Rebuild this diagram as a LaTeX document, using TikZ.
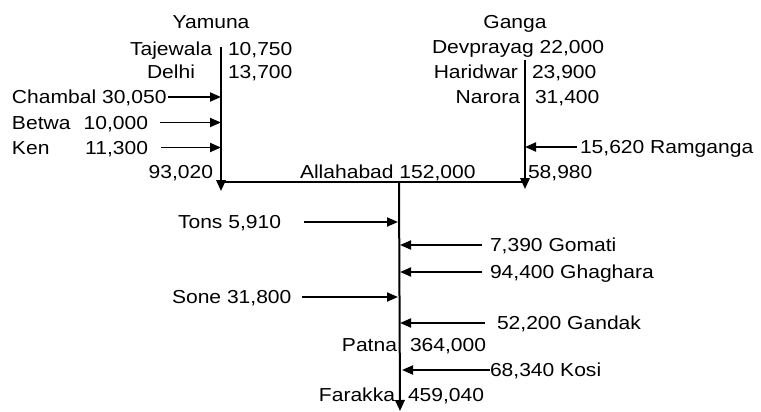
\documentclass[tikz,border=0pt]{standalone}
\usepackage{fontspec}
\setmainfont{Liberation Sans}[FakeStretch=1.12]
\usetikzlibrary{arrows.meta}
\tikzset{
  lbl/.style={inner sep=0pt, outer sep=0pt, font=\fontsize{18.8}{22}\selectfont},
  river/.style={line width=2pt, -{Triangle[length=11pt,width=9.5pt]}},
  trib/.style={line width=1.9pt, -{Triangle[length=11pt,width=9pt]}},
  plain/.style={line width=2pt}
}
\begin{document}
\begin{tikzpicture}[x=1pt,y=-1pt]
\useasboundingbox (0,0) rectangle (761,412);
% river lines
\coordinate (ytop) at (221,47);
\coordinate (yend) at (221,191);
\coordinate (gtop) at (525,60);
\coordinate (gend) at (525,189);
\coordinate (hl) at (221,182);
\coordinate (hr) at (525,182);
\coordinate (mtop) at (399,182);
\coordinate (mend) at (400,411);
\draw[river] (ytop) -- (yend);
\draw[river] (gtop) -- (gend);
\draw[plain] (hl) -- (hr);
\draw[river] (mtop) -- (mend);
% tributary endpoints
\coordinate (chS) at (168,97);   \coordinate (chE) at (221,97);
\coordinate (beS) at (160,122.5); \coordinate (beE) at (221,122.5);
\coordinate (keS) at (161,147.5); \coordinate (keE) at (221,147.5);
\coordinate (raS) at (577,147);  \coordinate (raE) at (525,147);
\coordinate (toS) at (304,222);  \coordinate (toE) at (398,222);
\coordinate (goS) at (482,245);  \coordinate (goE) at (400,245);
\coordinate (ghS) at (482,272);  \coordinate (ghE) at (400,272);
\coordinate (soS) at (302,297);  \coordinate (soE) at (398,297);
\coordinate (gaS) at (485,323);  \coordinate (gaE) at (400,323);
\coordinate (koS) at (490,370);  \coordinate (koE) at (402,370);
\draw[trib] (chS) -- (chE);
\draw[trib] (beS) -- (beE);
\draw[trib] (keS) -- (keE);
\draw[trib] (raS) -- (raE);
\draw[trib] (toS) -- (toE);
\draw[trib] (goS) -- (goE);
\draw[trib] (ghS) -- (ghE);
\draw[trib] (soS) -- (soE);
\draw[trib] (gaS) -- (gaE);
\draw[trib] (koS) -- (koE);
% labels: Yamuna
\node[lbl, anchor=base] (yamuna) at (211,28.6) {Yamuna};
\node[lbl, anchor=base east] (taj) at (212,55.6) {Tajewala};
\node[lbl, anchor=base west] (tajv) at (228,55.6) {10,750};
\node[lbl, anchor=base east] (del) at (195,78.6) {Delhi};
\node[lbl, anchor=base west] (delv) at (228,78.6) {13,700};
\node[lbl, anchor=base west] (cha) at (12,103.6) {Chambal 30,050};
\node[lbl, anchor=base west] (bet) at (12,129) {Betwa};
\node[lbl, anchor=base east] (betv) at (148,129) {10,000};
\node[lbl, anchor=base west] (ken) at (12,154) {Ken};
\node[lbl, anchor=base east] (kenv) at (148,154) {11,300};
\node[lbl, anchor=base east] (yamv) at (213,178) {93,020};
% labels: Ganga
\node[lbl, anchor=base] (ganga) at (515,28.6) {Ganga};
\node[lbl, anchor=base west] (dev) at (432,53.6) {Devprayag 22,000};
\node[lbl, anchor=base east] (har) at (518,78.6) {Haridwar};
\node[lbl, anchor=base west] (harv) at (532,78.6) {23,900};
\node[lbl, anchor=base east] (nar) at (520,103.6) {Narora};
\node[lbl, anchor=base west] (narv) at (535,103.6) {31,400};
\node[lbl, anchor=base west] (ram) at (580,153.6) {15,620 Ramganga};
\node[lbl, anchor=base west] (ganv) at (528,178) {58,980};
\node[lbl, anchor=base west] (all) at (300,178) {Allahabad 152,000};
% labels: lower Ganga
\node[lbl, anchor=base west] (ton) at (178,228.6) {Tons 5,910};
\node[lbl, anchor=base west] (gom) at (490,251.6) {7,390 Gomati};
\node[lbl, anchor=base west] (gha) at (490,278.6) {94,400 Ghaghara};
\node[lbl, anchor=base west] (son) at (172,303.6) {Sone 31,800};
\node[lbl, anchor=base west] (gan) at (497,329.6) {52,200 Gandak};
\node[lbl, anchor=base east] (pat) at (397,351.6) {Patna};
\node[lbl, anchor=base west] (patv) at (410,351.6) {364,000};
\node[lbl, anchor=base west] (kos) at (490,376.6) {68,340 Kosi};
\node[lbl, anchor=base east] (far) at (395,401.6) {Farakka};
\node[lbl, anchor=base west] (farv) at (408,401.6) {459,040};
\end{tikzpicture}
\end{document}
